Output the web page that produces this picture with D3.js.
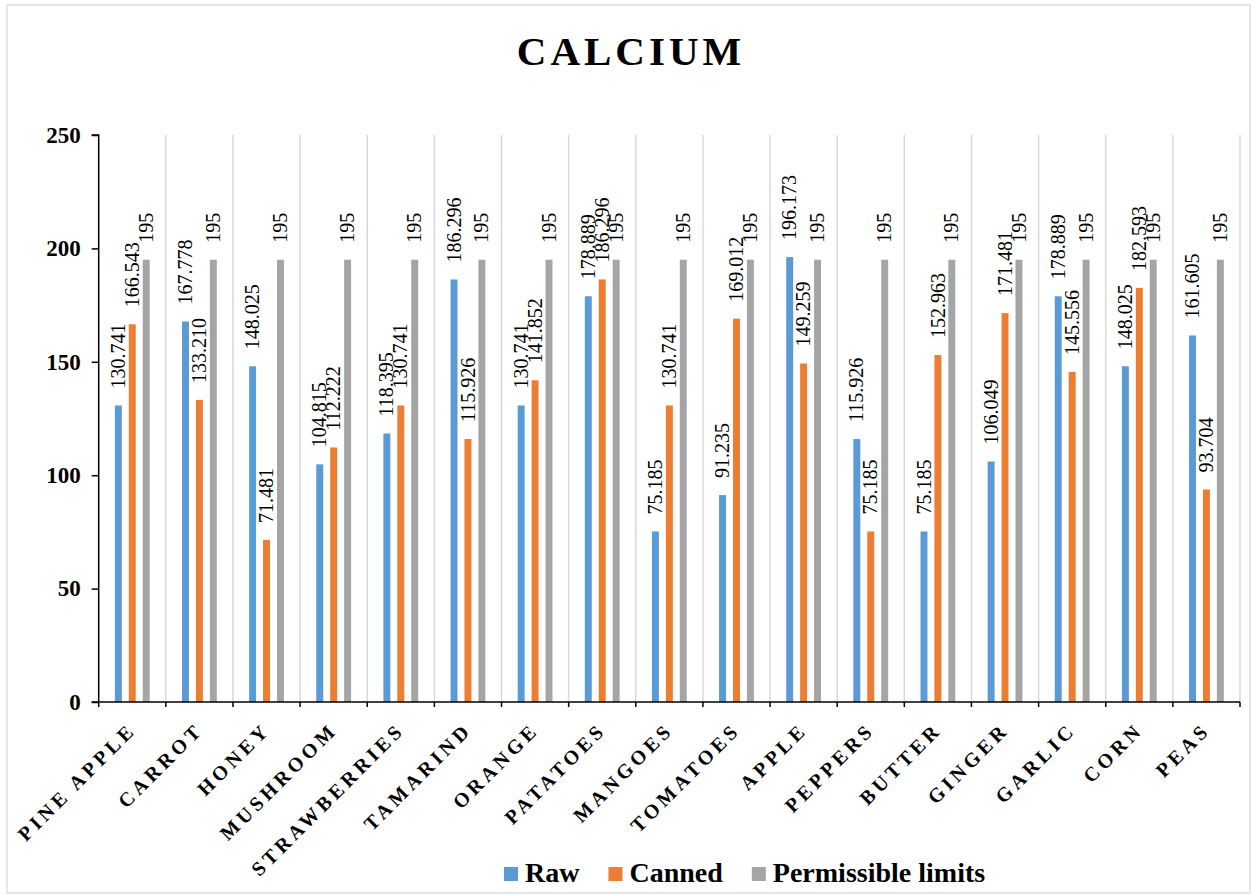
<!DOCTYPE html>
<html>
<head>
<meta charset="utf-8">
<script src="https://cdn.jsdelivr.net/npm/d3@7"></script>
<style>
  html, body { margin: 0; padding: 0; background: #fff; }
  svg { display: block; }
  svg text { font-family: "Liberation Serif", "Times New Roman", serif; }
</style>
</head>
<body>
<svg id="chart" width="1253" height="895"></svg>
<script>
const categories = ["PINE APPLE","CARROT","HONEY","MUSHROOM","STRAWBERRIES","TAMARIND","ORANGE","PATATOES","MANGOES","TOMATOES","APPLE","PEPPERS","BUTTER","GINGER","GARLIC","CORN","PEAS"];
const rawValues = [130.741,167.778,148.025,104.815,118.395,186.296,130.741,178.889,75.185,91.235,196.173,115.926,75.185,106.049,178.889,148.025,161.605];
const cannedValues = [166.543,133.210,71.481,112.222,130.741,115.926,141.852,186.296,130.741,169.012,149.259,75.185,152.963,171.481,145.556,182.593,93.704];
const limitValues = [195,195,195,195,195,195,195,195,195,195,195,195,195,195,195,195,195];
const seriesNames = ["Raw","Canned","Permissible limits"];
const yTicks = [0,50,100,150,200,250];

const FONT = "Liberation Serif";
const colors = ["#5B9BD5","#ED7D31","#A5A5A5"];
const labelFormats = [d3.format(".3f"), d3.format(".3f"), d3.format("d")];
const seriesValues = [rawValues, cannedValues, limitValues];

const svg = d3.select("#chart");
const plot = {left: 98.7, right: 1240, top: 135, bottom: 702};

// outer border
svg.append("rect").attr("x", 7).attr("y", 5).attr("width", 1243).attr("height", 888)
  .attr("fill", "#fff").attr("stroke", "#d9d9d9").attr("stroke-width", 1.3);

const x0 = d3.scaleBand().domain(categories).range([plot.left, plot.right]).paddingInner(0).paddingOuter(0);
const x1 = d3.scaleBand().domain(seriesNames).range([0, x0.bandwidth()]).paddingInner(0.5).paddingOuter(1.16);
const y = d3.scaleLinear().domain([0, 250]).range([plot.bottom, plot.top]);

// vertical gridlines at category boundaries
const boundaries = categories.map(c => x0(c)).concat([plot.right]).slice(1);
svg.append("g").selectAll("line").data(boundaries).join("line")
  .attr("x1", d => d).attr("x2", d => d)
  .attr("y1", plot.top).attr("y2", plot.bottom)
  .attr("stroke", "#d9d9d9").attr("stroke-width", 1.5);

// title
svg.append("text").attr("x", 631).attr("y", 65).attr("text-anchor", "middle")
  .attr("font-family", FONT)
  .attr("font-size", 41).attr("font-weight", "bold").attr("letter-spacing", "4px")
  .attr("fill", "#000").text("CALCIUM");

// bars
const data = [];
categories.forEach((c, i) => seriesNames.forEach((s, j) => data.push({c, s, j, v: seriesValues[j][i]})));

svg.append("g").selectAll("rect").data(data).join("rect")
  .attr("x", d => x0(d.c) + x1(d.s))
  .attr("y", d => y(d.v))
  .attr("width", x1.bandwidth())
  .attr("height", d => y(0) - y(d.v))
  .attr("fill", d => colors[d.j]);

// data labels
svg.append("g").selectAll("text").data(data).join("text")
  .attr("transform", d => `translate(${x0(d.c) + x1(d.s) + x1.bandwidth() / 2},${y(d.v) - 17}) rotate(-90)`)
  .attr("dy", "0.33em")
  .attr("font-family", FONT)
  .attr("font-size", 20)
  .attr("fill", "#000")
  .text(d => labelFormats[d.j](d.v));

// y axis
const yAxis = d3.axisLeft(y).tickValues(yTicks).tickSize(7).tickPadding(11).tickFormat(d3.format("d"));
const gy = svg.append("g").attr("transform", `translate(${plot.left},0)`).call(yAxis)
  .attr("font-family", FONT);
gy.select(".domain").attr("stroke", "#000").attr("stroke-width", 1.5).attr("d", `M-7,${plot.top}H0V${plot.bottom}`);
gy.selectAll(".tick line").attr("stroke", "#000").attr("stroke-width", 1.5);
gy.selectAll(".tick text").attr("font-family", FONT).attr("font-size", 23).attr("font-weight", "bold").attr("fill", "#000");

// x axis line and ticks at boundaries
const gx = svg.append("g");
gx.append("line").attr("x1", plot.left - 7).attr("x2", plot.right).attr("y1", plot.bottom).attr("y2", plot.bottom)
  .attr("stroke", "#000").attr("stroke-width", 1.5);
gx.selectAll("line.t").data([plot.left].concat(boundaries)).join("line").attr("class", "t")
  .attr("x1", d => d).attr("x2", d => d).attr("y1", plot.bottom).attr("y2", plot.bottom + 5)
  .attr("stroke", "#000").attr("stroke-width", 1.5);

// category labels rotated
gx.selectAll("text").data(categories).join("text")
  .attr("transform", d => `translate(${x0(d) + x0.bandwidth() / 2 + 5},${plot.bottom + 29}) rotate(-45)`)
  .attr("text-anchor", "end")
  .attr("font-family", FONT)
  .attr("font-size", 20).attr("font-weight", "bold").attr("letter-spacing", "4px")
  .attr("fill", "#000")
  .text(d => d);

// legend
const lg = svg.append("g").attr("transform", "translate(504,867)");
let lx = 0;
seriesNames.forEach((s, j) => {
  const item = lg.append("g").attr("transform", `translate(${lx},0)`);
  item.append("rect").attr("width", 14).attr("height", 14).attr("fill", colors[j]);
  const t = item.append("text").attr("x", 21).attr("y", 15)
    .attr("font-family", FONT).attr("font-size", 28).attr("font-weight", "bold")
    .attr("fill", "#000").text(s);
  lx += 21 + t.node().getComputedTextLength() + 29;
});
</script>
</body>
</html>
